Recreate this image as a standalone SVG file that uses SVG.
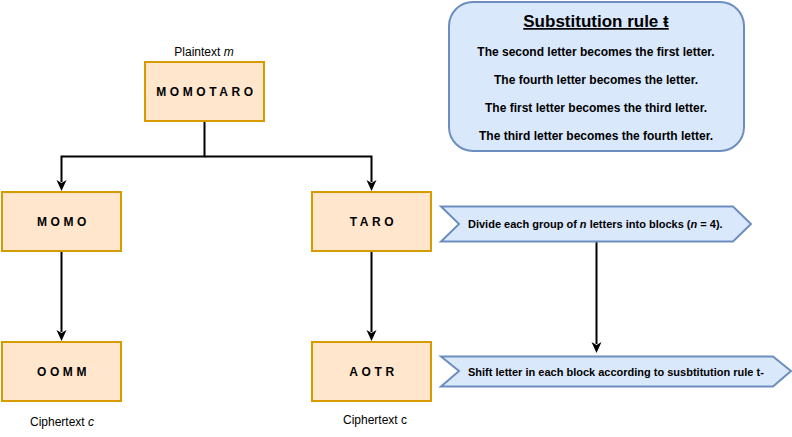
<svg xmlns="http://www.w3.org/2000/svg" width="792" height="437" viewBox="0 0 792 437">
<style>
text{font-family:"Liberation Sans",Arial,sans-serif;fill:#000}
.box{fill:#ffe6cc;stroke:#d79b00;stroke-width:2}
.blue{fill:#dae8fc;stroke:#6c8ebf;stroke-width:2}
.bt{font-size:12px;font-weight:bold;letter-spacing:3.6px;text-anchor:middle}
.lbl{font-size:12px;text-anchor:middle}
.rule{font-size:12px;font-weight:bold;text-anchor:middle}
.step{font-size:11px;font-weight:bold}
.conn{fill:none;stroke:#000;stroke-width:2}
</style>
<g id="connectors">
<path class="conn" d="M204.5,121 V156.5 H61.5 V182"/>
<path class="conn" d="M204.5,156.5 H371.5 V182"/>
<path class="conn" d="M61.5,251 V332"/>
<path class="conn" d="M371.5,251 V332"/>
<path class="conn" d="M596.5,241 V344"/>
<path d="M56.5,180 L61.5,191 L66.5,180 L61.5,183 Z"/>
<path d="M366.5,180 L371.5,191 L376.5,180 L371.5,183 Z"/>
<path d="M56.5,330 L61.5,341 L66.5,330 L61.5,333 Z"/>
<path d="M366.5,330 L371.5,341 L376.5,330 L371.5,333 Z"/>
<path d="M591.5,342 L596.5,353 L601.5,342 L596.5,345 Z"/>
</g>
<g id="plain">
<text class="lbl" x="204" y="56">Plaintext <tspan font-style="italic">m</tspan></text>
<rect class="box" x="145" y="62" width="119" height="59"/>
<text class="bt" x="206.5" y="96">MOMOTARO</text>
</g>
<g id="momo">
<rect class="box" x="2" y="192" width="119" height="59"/>
<text class="bt" x="63.5" y="226">MOMO</text>
</g>
<g id="taro">
<rect class="box" x="312" y="192" width="119" height="59"/>
<text class="bt" x="373.5" y="226">TARO</text>
</g>
<g id="oomm">
<rect class="box" x="2" y="342" width="119" height="59"/>
<text class="bt" x="63.5" y="376">OOMM</text>
<text class="lbl" x="62" y="426">Ciphertext <tspan font-style="italic">c</tspan></text>
</g>
<g id="aotr">
<rect class="box" x="312" y="342" width="119" height="59"/>
<text class="bt" x="373.5" y="376">AOTR</text>
<text class="lbl" x="375" y="424">Ciphertext c</text>
</g>
<g id="rulebox">
<rect class="blue" x="449" y="2" width="295" height="149" rx="24" ry="24"/>
<text x="596" y="27" font-size="17" font-weight="bold" text-anchor="middle" text-decoration="underline">Substitution rule ŧ</text>
<text class="rule" x="596" y="56">The second letter becomes the first letter.</text>
<text class="rule" x="596" y="84">The fourth letter becomes the letter.</text>
<text class="rule" x="596" y="112">The first letter becomes the third letter.</text>
<text class="rule" x="596" y="140">The third letter becomes the fourth letter.</text>
</g>
<g id="step1">
<polygon class="blue" points="441,206.5 733,206.5 751,224 733,241.5 441,241.5 459,224"/>
<text class="step" x="468" y="228" font-size="10">Divide each group of <tspan font-style="italic">n</tspan> letters into blocks (<tspan font-style="italic">n</tspan> = 4).</text>
</g>
<g id="step2">
<polygon class="blue" points="441,356.5 773,356.5 791,371 773,386.5 441,386.5 459,371"/>
<text class="step" x="468" y="376">Shift letter in each block according to susbtitution rule t-</text>
</g>
</svg>
